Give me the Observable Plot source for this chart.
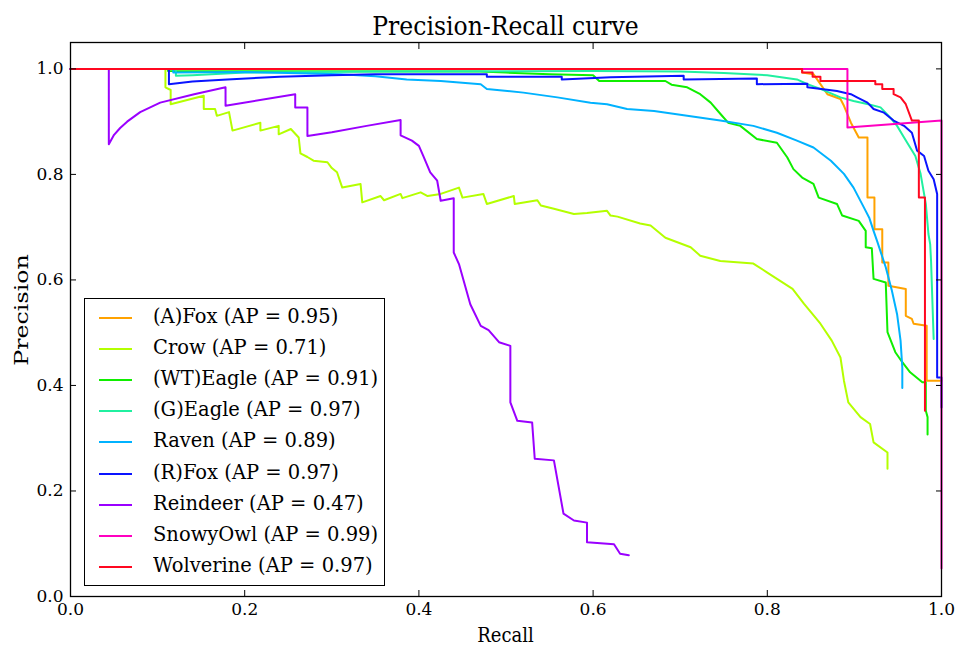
<!DOCTYPE html>
<html>
<head>
<meta charset="utf-8">
<script src="https://cdn.jsdelivr.net/npm/d3@7"></script>
<script src="https://cdn.jsdelivr.net/npm/@observablehq/plot@0.6"></script>
<style>
  body { margin: 0; background: #fff; font-family: "DejaVu Serif", serif; }
  #wrap { position: relative; width: 956px; height: 648px; overflow: hidden; font-family: "DejaVu Serif", serif; }
  #title { position: absolute; left: 70px; width: 871px; top: 11px; text-align: center; font-size: 23.5px; line-height: 30px; color: #000; transform: scaleY(1.12); }
  #chart { position: absolute; left: 0; top: 40px; }
  #xlabel { position: absolute; left: 70px; width: 871px; top: 624px; text-align: center; font-size: 18px; transform: scaleY(1.1); }
  #ylabel { position: absolute; left: 21px; top: 310px; font-size: 19px; transform: translate(-50%, -50%) rotate(-90deg) scale(1.25, 1); white-space: nowrap; }
  #legend { position: absolute; left: 84px; top: 298px; width: 299px; height: 286px; border: 1px solid #000; background: #fff; }
  .row { position: absolute; left: 0; height: 31px; width: 299px; }
  .row svg { position: absolute; left: 13px; top: 15px; }
  .row span { position: absolute; left: 68px; top: 4px; font-family: "DejaVu Serif", serif; font-size: 19.5px; white-space: nowrap; line-height: 24px; transform: scaleY(1.08); transform-origin: left center; }
  svg text { font-family: "DejaVu Serif", serif; }
</style>
</head>
<body>
<div id="wrap">
  <div id="title"></div>
  <div id="chart"></div>
  <div id="xlabel"></div>
  <div id="ylabel"></div>
  <div id="legend"></div>
</div>
<script>
const titleText = "Precision-Recall curve";
const xLabel = "Recall";
const yLabel = "Precision";
const xTicks = [0, 0.2, 0.4, 0.6, 0.8, 1.0];
const yTicks = [0, 0.2, 0.4, 0.6, 0.8, 1.0];

const names = ["(A)Fox", "Crow", "(WT)Eagle", "(G)Eagle", "Raven", "(R)Fox", "Reindeer", "SnowyOwl", "Wolverine"];
const apValues = [0.95, 0.71, 0.91, 0.97, 0.89, 0.97, 0.47, 0.99, 0.97];
const colors = ["#ffa200", "#b4ff00", "#10ee00", "#20f0a0", "#00b2ff", "#0a14ff", "#9a00ff", "#ff00c0", "#ff0820"];

const foxA_r = [0, 0.840, 0.840, 0.853, 0.861, 0.869, 0.884, 0.888, 0.896, 0.905, 0.915, 0.915, 0.923, 0.923, 0.932, 0.932, 0.939, 0.939, 0.959, 0.959, 0.966, 0.968, 0.983, 0.983, 1.0];
const foxA_p = [1, 1, 0.993, 0.990, 0.971, 0.952, 0.943, 0.930, 0.898, 0.870, 0.870, 0.756, 0.756, 0.696, 0.696, 0.633, 0.633, 0.589, 0.583, 0.532, 0.526, 0.517, 0.513, 0.409, 0.409];

const crow_r = [0, 0.109, 0.109, 0.115, 0.115, 0.153, 0.153, 0.166, 0.168, 0.182, 0.186, 0.218, 0.218, 0.239, 0.239, 0.253, 0.262, 0.264, 0.272, 0.279, 0.295, 0.300, 0.306, 0.312, 0.333, 0.335, 0.356, 0.360, 0.379, 0.381, 0.402, 0.410, 0.425, 0.446, 0.450, 0.474, 0.478, 0.509, 0.510, 0.536, 0.540, 0.555, 0.578, 0.593, 0.616, 0.620, 0.628, 0.654, 0.666, 0.683, 0.712, 0.723, 0.746, 0.784, 0.800, 0.829, 0.842, 0.861, 0.874, 0.884, 0.888, 0.893, 0.907, 0.918, 0.922, 0.938, 0.938];
const crow_p = [1, 1, 0.965, 0.960, 0.933, 0.949, 0.924, 0.924, 0.911, 0.918, 0.883, 0.898, 0.883, 0.892, 0.876, 0.886, 0.870, 0.840, 0.833, 0.826, 0.823, 0.812, 0.804, 0.775, 0.782, 0.747, 0.759, 0.751, 0.763, 0.755, 0.766, 0.759, 0.763, 0.775, 0.756, 0.763, 0.744, 0.759, 0.744, 0.751, 0.741, 0.735, 0.725, 0.727, 0.731, 0.722, 0.720, 0.707, 0.703, 0.680, 0.662, 0.646, 0.636, 0.631, 0.614, 0.583, 0.555, 0.517, 0.485, 0.453, 0.409, 0.368, 0.340, 0.327, 0.292, 0.273, 0.242];

const eagleWT_r = [0, 0.112, 0.112, 0.47, 0.50, 0.55, 0.60, 0.607, 0.683, 0.690, 0.708, 0.723, 0.735, 0.746, 0.755, 0.769, 0.788, 0.811, 0.823, 0.830, 0.840, 0.853, 0.859, 0.880, 0.886, 0.905, 0.913, 0.913, 0.920, 0.922, 0.936, 0.938, 0.947, 0.955, 0.964, 0.978, 0.982, 0.982, 0.984, 0.984];
const eagleWT_p = [1, 1, 0.996, 0.995, 0.993, 0.990, 0.988, 0.977, 0.977, 0.970, 0.965, 0.952, 0.936, 0.915, 0.898, 0.892, 0.867, 0.860, 0.832, 0.810, 0.794, 0.782, 0.756, 0.744, 0.722, 0.712, 0.693, 0.662, 0.660, 0.602, 0.595, 0.501, 0.463, 0.444, 0.425, 0.406, 0.406, 0.352, 0.340, 0.307];

const eagleG_r = [0, 0.121, 0.121, 0.14, 0.20, 0.35, 0.60, 0.70, 0.75, 0.80, 0.834, 0.846, 0.861, 0.884, 0.899, 0.916, 0.930, 0.941, 0.949, 0.957, 0.964, 0.970, 0.976, 0.982, 0.985, 0.987, 0.988, 0.991];
const eagleG_p = [1, 1, 0.987, 0.988, 0.993, 0.995, 0.996, 0.995, 0.992, 0.988, 0.980, 0.971, 0.962, 0.946, 0.939, 0.933, 0.927, 0.908, 0.892, 0.870, 0.851, 0.835, 0.801, 0.744, 0.687, 0.668, 0.636, 0.488];

const raven_r = [0, 0.118, 0.118, 0.20, 0.25, 0.310, 0.35, 0.386, 0.425, 0.471, 0.478, 0.520, 0.559, 0.597, 0.616, 0.639, 0.670, 0.708, 0.746, 0.784, 0.811, 0.834, 0.853, 0.873, 0.888, 0.899, 0.911, 0.917, 0.922, 0.926, 0.936, 0.943, 0.949, 0.953, 0.955, 0.955];
const raven_p = [1, 1, 0.993, 0.994, 0.992, 0.990, 0.986, 0.980, 0.977, 0.971, 0.962, 0.955, 0.946, 0.936, 0.933, 0.924, 0.920, 0.911, 0.902, 0.892, 0.879, 0.864, 0.851, 0.826, 0.801, 0.775, 0.737, 0.718, 0.693, 0.674, 0.624, 0.580, 0.535, 0.485, 0.434, 0.395];

const foxR_r = [0, 0.113, 0.113, 0.14, 0.18, 0.24, 0.30, 0.35, 0.478, 0.478, 0.564, 0.564, 0.62, 0.704, 0.704, 0.788, 0.788, 0.846, 0.846, 0.880, 0.896, 0.903, 0.915, 0.922, 0.934, 0.945, 0.957, 0.966, 0.972, 0.980, 0.985, 0.991, 0.995, 0.995, 1.0, 1.0];
const foxR_p = [1, 1, 0.971, 0.976, 0.980, 0.985, 0.988, 0.990, 0.990, 0.985, 0.985, 0.980, 0.984, 0.987, 0.980, 0.982, 0.971, 0.972, 0.965, 0.958, 0.952, 0.946, 0.936, 0.924, 0.917, 0.902, 0.892, 0.879, 0.845, 0.835, 0.807, 0.791, 0.763, 0.415, 0.415, 0.358];

const reindeer_r = [0, 0.044, 0.044, 0.050, 0.057, 0.065, 0.080, 0.103, 0.142, 0.178, 0.178, 0.258, 0.258, 0.272, 0.272, 0.300, 0.340, 0.379, 0.379, 0.392, 0.400, 0.405, 0.413, 0.421, 0.425, 0.440, 0.440, 0.446, 0.459, 0.471, 0.480, 0.492, 0.505, 0.505, 0.513, 0.530, 0.533, 0.555, 0.566, 0.578, 0.593, 0.593, 0.624, 0.631, 0.641];
const reindeer_p = [1, 1, 0.857, 0.875, 0.888, 0.900, 0.918, 0.936, 0.952, 0.965, 0.930, 0.952, 0.927, 0.927, 0.873, 0.880, 0.892, 0.903, 0.874, 0.864, 0.854, 0.835, 0.804, 0.788, 0.750, 0.755, 0.652, 0.630, 0.554, 0.513, 0.505, 0.482, 0.475, 0.368, 0.333, 0.330, 0.261, 0.258, 0.157, 0.144, 0.140, 0.103, 0.099, 0.081, 0.078];

const owl_r = [0, 0.892, 0.892, 1.0, 1.0];
const owl_p = [1, 1, 0.889, 0.902, 0.053];

const wolverine_r = [0, 0.840, 0.840, 0.852, 0.852, 0.861, 0.861, 0.924, 0.924, 0.932, 0.932, 0.945, 0.945, 0.953, 0.959, 0.966, 0.974, 0.974, 0.981, 0.981];
const wolverine_p = [1, 1, 0.993, 0.993, 0.985, 0.985, 0.977, 0.977, 0.971, 0.971, 0.962, 0.962, 0.952, 0.946, 0.933, 0.902, 0.902, 0.756, 0.756, 0.352];

const recalls = [foxA_r, crow_r, eagleWT_r, eagleG_r, raven_r, foxR_r, reindeer_r, owl_r, wolverine_r];
const precisions = [foxA_p, crow_p, eagleWT_p, eagleG_p, raven_p, foxR_p, reindeer_p, owl_p, wolverine_p];

const rows = [];
names.forEach((name, i) => {
  recalls[i].forEach((r, j) => rows.push({name, recall: r, precision: precisions[i][j]}));
});

const fmt = d3.format(".1f");
const chart = Plot.plot({
  width: 956,
  height: 608,
  marginTop: 2,
  marginBottom: 52,
  marginLeft: 70,
  marginRight: 15,
  style: {fontFamily: "DejaVu Serif", fontSize: "17px", color: "#000", background: "transparent"},
  x: {domain: [0, 1], axis: null},
  y: {domain: [0, 1.05], axis: null},
  color: {domain: names, range: colors},
  marks: [
    Plot.line(rows, {x: "recall", y: "precision", z: "name", stroke: "name", strokeWidth: 2, curve: "linear"}),
    Plot.frame({stroke: "#000", strokeWidth: 1.3}),
    Plot.axisX(xTicks, {anchor: "bottom", tickSize: -6, tickPadding: 12, tickFormat: fmt, label: null}),
    Plot.axisX(xTicks, {anchor: "top", tickSize: -6, tickFormat: () => "", label: null}),
    Plot.axisY(yTicks, {anchor: "left", tickSize: -6, tickPadding: 13, tickFormat: fmt, label: null}),
    Plot.axisY(yTicks, {anchor: "right", tickSize: -6, tickFormat: () => "", label: null})
  ]
});
document.getElementById("chart").appendChild(chart);
document.getElementById("title").textContent = titleText;
document.getElementById("xlabel").textContent = xLabel;
document.getElementById("ylabel").textContent = yLabel;

const legend = document.getElementById("legend");
names.forEach((name, i) => {
  const row = document.createElement("div");
  row.className = "row";
  row.style.top = (2 + i * 31.1) + "px";
  row.innerHTML = `<svg width="36" height="4"><line x1="1" y1="2" x2="34" y2="2" stroke="${colors[i]}" stroke-width="2"/></svg><span>${name} (AP = ${apValues[i].toFixed(2)})</span>`;
  legend.appendChild(row);
});
</script>
</body>
</html>
